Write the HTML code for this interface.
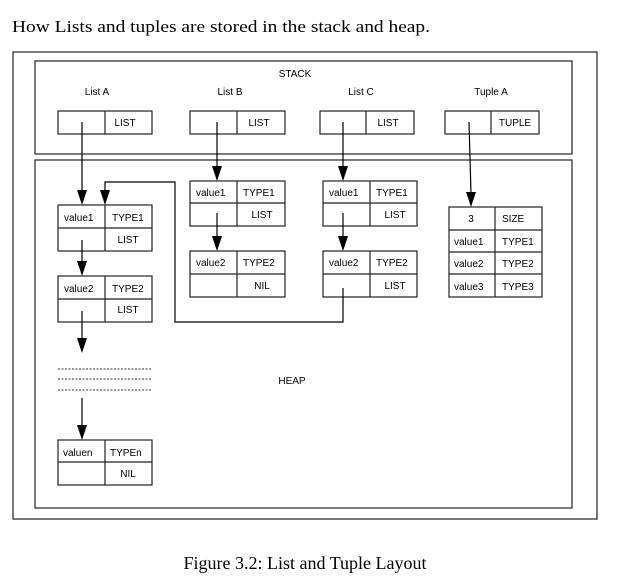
<!DOCTYPE html>
<html><head><meta charset="utf-8"><style>
html,body{margin:0;padding:0;background:#fff;}
svg{display:block;}
.s{font-family:"Liberation Sans",sans-serif;font-size:10px;fill:#000;}
</style></head><body>
<svg width="631" height="584" viewBox="0 0 631 584" xmlns="http://www.w3.org/2000/svg">
<text x="12" y="32" font-family="Liberation Serif,serif" font-size="17" textLength="418" lengthAdjust="spacingAndGlyphs">How Lists and tuples are stored in the stack and heap.</text>
<g fill="none" stroke="#333" stroke-width="1.3">
<rect x="13" y="52" width="584" height="467"/>
<rect x="35" y="61" width="537" height="93"/>
<rect x="35" y="160" width="537" height="348"/>
</g>
<g class="s">
<text x="295" y="77" text-anchor="middle">STACK</text>
<text x="97" y="95" text-anchor="middle">List A</text>
<text x="230" y="95" text-anchor="middle">List B</text>
<text x="361" y="95" text-anchor="middle">List C</text>
<text x="491" y="95" text-anchor="middle">Tuple A</text>
<text x="292" y="384" text-anchor="middle">HEAP</text>
</g>
<g fill="none" stroke="#222" stroke-width="1.2">
<rect x="58" y="111" width="94" height="23"/><line x1="105" y1="111" x2="105" y2="134"/>
<rect x="190" y="111" width="95" height="23"/><line x1="237" y1="111" x2="237" y2="134"/>
<rect x="320" y="111" width="94" height="23"/><line x1="366" y1="111" x2="366" y2="134"/>
<rect x="445" y="111" width="94" height="23"/><line x1="491" y1="111" x2="491" y2="134"/>
<rect x="58" y="205" width="94" height="46"/><line x1="105" y1="205" x2="105" y2="251"/><line x1="58" y1="228" x2="152" y2="228"/>
<rect x="58" y="276" width="94" height="46"/><line x1="105" y1="276" x2="105" y2="322"/><line x1="58" y1="299" x2="152" y2="299"/>
<rect x="58" y="440" width="94" height="45"/><line x1="105" y1="440" x2="105" y2="485"/><line x1="58" y1="462" x2="152" y2="462"/>
<rect x="190" y="181" width="95" height="45"/><line x1="237" y1="181" x2="237" y2="226"/><line x1="190" y1="203" x2="285" y2="203"/>
<rect x="190" y="251" width="95" height="46"/><line x1="237" y1="251" x2="237" y2="297"/><line x1="190" y1="274" x2="285" y2="274"/>
<rect x="323" y="181" width="94" height="45"/><line x1="370" y1="181" x2="370" y2="226"/><line x1="323" y1="203" x2="417" y2="203"/>
<rect x="323" y="251" width="94" height="46"/><line x1="370" y1="251" x2="370" y2="297"/><line x1="323" y1="274" x2="417" y2="274"/>
<rect x="449" y="207" width="93" height="90"/><line x1="495" y1="207" x2="495" y2="297"/>
<line x1="449" y1="230" x2="542" y2="230"/><line x1="449" y1="252" x2="542" y2="252"/><line x1="449" y1="274" x2="542" y2="274"/>
</g>
<g stroke="#333" stroke-width="1" stroke-dasharray="2,1.5">
<line x1="58" y1="369" x2="151" y2="369"/><line x1="58" y1="379" x2="151" y2="379"/><line x1="58" y1="390" x2="151" y2="390"/>
</g>
<g class="s">
<text x="125" y="126" text-anchor="middle">LIST</text>
<text x="259" y="126" text-anchor="middle">LIST</text>
<text x="388" y="126" text-anchor="middle">LIST</text>
<text x="515" y="126" text-anchor="middle">TUPLE</text>
<text x="64" y="221">value1</text><text x="112" y="221">TYPE1</text><text x="128" y="243" text-anchor="middle">LIST</text>
<text x="64" y="292">value2</text><text x="112" y="292">TYPE2</text><text x="128" y="313" text-anchor="middle">LIST</text>
<text x="63" y="456">valuen</text><text x="110" y="456">TYPEn</text><text x="128" y="477" text-anchor="middle">NIL</text>
<text x="196" y="196">value1</text><text x="243" y="196">TYPE1</text><text x="262" y="218" text-anchor="middle">LIST</text>
<text x="196" y="266">value2</text><text x="243" y="266">TYPE2</text><text x="262" y="289" text-anchor="middle">NIL</text>
<text x="329" y="196">value1</text><text x="376" y="196">TYPE1</text><text x="395" y="218" text-anchor="middle">LIST</text>
<text x="329" y="266">value2</text><text x="376" y="266">TYPE2</text><text x="395" y="289" text-anchor="middle">LIST</text>
<text x="471" y="222" text-anchor="middle">3</text><text x="502" y="222">SIZE</text>
<text x="454" y="245">value1</text><text x="502" y="245">TYPE1</text>
<text x="454" y="267">value2</text><text x="502" y="267">TYPE2</text>
<text x="454" y="290">value3</text><text x="502" y="290">TYPE3</text>
</g>
<g stroke="#000" stroke-width="1.2" fill="none">
<line x1="82" y1="122" x2="82" y2="192"/>
<line x1="82" y1="240" x2="82" y2="263"/>
<line x1="82" y1="311" x2="82" y2="340"/>
<line x1="82" y1="398" x2="82" y2="427"/>
<line x1="217" y1="122" x2="217" y2="168"/>
<line x1="217" y1="213" x2="217" y2="238"/>
<line x1="343" y1="122" x2="343" y2="168"/>
<line x1="343" y1="213" x2="343" y2="238"/>
<line x1="469" y1="122" x2="471" y2="194"/>
<polyline points="343,288 343,322 175,322 175,182 105,182 105,192"/>
</g>
<g fill="#000">
<polygon points="77,190 87,190 82,205"/>
<polygon points="77,261 87,261 82,276"/>
<polygon points="77,338 87,338 82,353"/>
<polygon points="77,425 87,425 82,440"/>
<polygon points="212,166 222,166 217,181"/>
<polygon points="212,236 222,236 217,251"/>
<polygon points="338,166 348,166 343,181"/>
<polygon points="338,236 348,236 343,251"/>
<polygon points="466,192 476,192 471,207"/>
<polygon points="100,190 110,190 105,205"/>
</g>
<text x="305" y="569" text-anchor="middle" font-family="Liberation Serif,serif" font-size="18">Figure 3.2: List and Tuple Layout</text>
</svg>
</body></html>
